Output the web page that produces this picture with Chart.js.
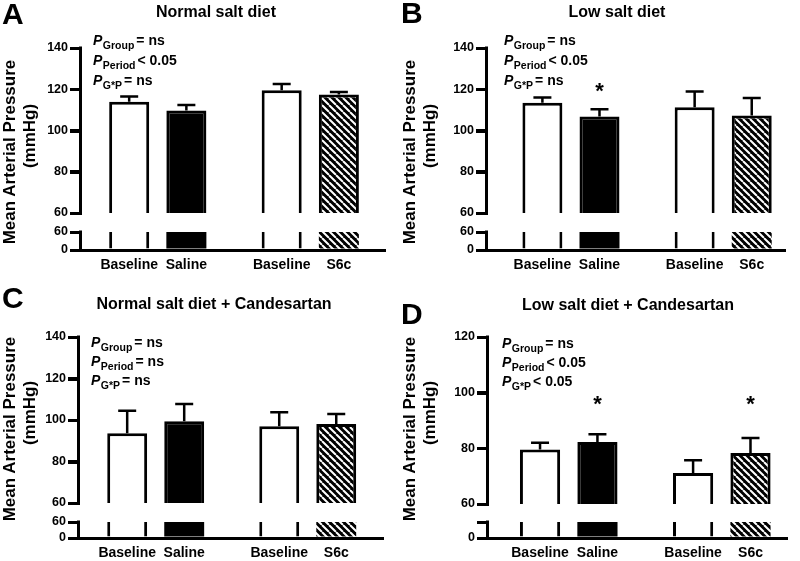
<!DOCTYPE html>
<html>
<head>
<meta charset="utf-8">
<script src="https://cdn.jsdelivr.net/npm/chart.js@4.4.1/dist/chart.umd.min.js"></script>
<style>
  body { margin: 0; background: #fff; }
  #fig { position: relative; width: 800px; height: 561px; overflow: hidden; }
  #fig canvas { position: absolute; }
  .yt { position: absolute; font: bold 17px "Liberation Sans", Arial, sans-serif; color: #000;
        white-space: nowrap; line-height: 1; transform: translate(-50%, -50%) rotate(-90deg); }
</style>
</head>
<body>
<div id="fig">
  <canvas id="pA" width="400" height="280" style="left:0;top:0"></canvas>
  <canvas id="pB" width="400" height="280" style="left:400px;top:0"></canvas>
  <canvas id="pC" width="400" height="281" style="left:0;top:280px"></canvas>
  <canvas id="pD" width="400" height="281" style="left:400px;top:280px"></canvas>
  <canvas id="ov" width="800" height="561" style="left:0;top:0;pointer-events:none"></canvas>
</div>
<script>
// ---- data ----
const groups = ["Saline", "S6c"];      // treatment given after each baseline
const baselineLabel = "Baseline";
const breakAt = 60;                      // y-axis break value (mmHg)
const yTitle = ["Mean Arterial Pressure", "(mmHg)"];

// A: Normal salt diet
const baseA = [114.0, 119.5];
const baseSemA = [2.5, 3.0];
const treatA = [109.7, 117.5];
const treatSemA = [2.7, 1.2];
const statsA = [["Group", "= ns"], ["Period", "< 0.05"], ["G*P", "= ns"]];
const starsA = [false, false];

// B: Low salt diet
const baseB = [113.5, 111.3];
const baseSemB = [2.5, 7.6];
const treatB = [106.8, 107.3];
const treatSemB = [3.5, 8.4];
const statsB = [["Group", "= ns"], ["Period", "< 0.05"], ["G*P", "= ns"]];
const starsB = [true, false];

// C: Normal salt diet + Candesartan
const baseC = [93.6, 97.0];
const baseSemC = [10.9, 6.7];
const treatC = [99.4, 98.1];
const treatSemC = [8.3, 4.8];
const statsC = [["Group", "= ns"], ["Period", "= ns"], ["G*P", "= ns"]];
const starsC = [false, false];

// D: Low salt diet + Candesartan
const baseD = [79.6, 71.1];
const baseSemD = [2.4, 4.6];
const treatD = [82.3, 78.3];
const treatSemD = [2.8, 5.4];
const statsD = [["Group", "= ns"], ["Period", "< 0.05"], ["G*P", "< 0.05"]];
const starsD = [true, true];

// ---- styling ----
const FONT = '"Liberation Sans", Arial, sans-serif';
Chart.defaults.font.family = FONT;
Chart.defaults.color = "#000";

function hatchPattern() {
  const c = document.createElement("canvas");
  c.width = 7; c.height = 7;
  const g = c.getContext("2d");
  g.fillStyle = "#000";
  g.fillRect(0, 0, 7, 7);
  g.strokeStyle = "#fff";
  g.lineWidth = 2;
  g.beginPath();
  for (const o of [-7, 0, 7]) { g.moveTo(o, 0); g.lineTo(o + 7, 7); }
  g.stroke();
  return g.createPattern(c, "repeat");
}
const HATCH = hatchPattern();

const pts = (vals) => vals.map((v, i) => ({ x: i, y: v }));

function makePanel(id, p) {
  const L = p.lay;
  const fixW = (s) => { s.width = L.left; };
  const axisBorder = { color: "#000", width: 3 };
  const tickGrid = { drawOnChartArea: false, color: "#000", lineWidth: 3, tickLength: 10 };
  const tickFont = { size: 12.5, weight: "bold" };
  const treatFill = ["#000", HATCH];
  const lowTicks = { stepSize: breakAt, padding: 2, font: tickFont, autoSkip: false };
  if (!p.breakLabel) lowTicks.callback = (v) => (v === breakAt ? "" : String(v));
  return new Chart(document.getElementById(id), {
    type: "bar",
    data: {
      datasets: [
        { label: baselineLabel, data: pts(p.base), yAxisID: "y", stack: "b",
          backgroundColor: "#fff", borderColor: "#000", borderWidth: 3 },
        { label: "Treatment", data: pts(p.treat), yAxisID: "y", stack: "t",
          backgroundColor: treatFill, borderColor: "#000", borderWidth: 3 },
        { label: "Baseline (below break)", data: pts(groups.map(() => breakAt)), yAxisID: "y0", stack: "b",
          backgroundColor: "#fff", borderColor: "#000",
          borderWidth: { left: 3, right: 3, top: 0, bottom: 0 }, borderSkipped: false },
        { label: "Treatment (below break)", data: pts(groups.map(() => breakAt)), yAxisID: "y0", stack: "t",
          backgroundColor: treatFill, borderWidth: 0 },
      ],
    },
    options: {
      responsive: false,
      animation: false,
      categoryPercentage: 0.75,
      barPercentage: 0.7,
      layout: { padding: { left: 0, top: L.top, right: 400 - L.right, bottom: 0 } },
      plugins: { legend: { display: false }, tooltip: { enabled: false } },
      scales: {
        x: {
          type: "linear", min: L.xMin, max: L.xMax, offset: false,
          ticks: { display: false, includeBounds: false, stepSize: 1 },
          grid: { display: false },
          border: axisBorder,
          afterFit: (s) => { s.height = L.h - L.bottom; },
        },
        y: {
          type: "linear", position: "left", stack: "v", stackWeight: L.weights[0], weight: 3,
          min: p.yMin, max: p.yMax,
          ticks: { stepSize: 20, padding: 2, font: tickFont },
          grid: tickGrid, border: axisBorder, afterFit: fixW,
        },
        gap: {
          type: "linear", position: "left", stack: "v", stackWeight: L.weights[1], weight: 2,
          display: false, min: 0, max: 1, afterFit: fixW,
        },
        y0: {
          type: "linear", position: "left", stack: "v", stackWeight: L.weights[2], weight: 1,
          min: 0, max: breakAt, ticks: lowTicks,
          grid: tickGrid, border: axisBorder, afterFit: fixW,
        },
      },
    },
  });
}

// overlay: error bars, stars, axis segments and annotation text, placed from each chart's scales
const ov = document.getElementById("ov").getContext("2d");
function decorate(chart, p, ox, oy) {
  const L = p.lay;
  const ctx = ov;
  const area = chart.chartArea;
  const y = chart.scales.y;
  ctx.save();
  ctx.translate(ox, oy);
  ctx.fillStyle = "#000";
  ctx.strokeStyle = "#000";

  // broken y axis: one segment per stacked scale
  ctx.lineWidth = 3;
  for (const id of ["y", "y0"]) {
    const s = chart.scales[id];
    const ax = Math.round(s.right) + 0.5;
    ctx.beginPath();
    ctx.moveTo(ax, s.top - 1.5);
    ctx.lineTo(ax, s.bottom + 1.5);
    for (const t of s.ticks) {
      const ty = Math.round(s.getPixelForValue(t.value)) + 0.5;
      ctx.moveTo(s.right - 10, ty);
      ctx.lineTo(ax, ty);
    }
    ctx.stroke();
  }

  // error bars (mean + SEM, upper only)
  ctx.lineWidth = 2.5;
  [p.baseSem, p.treatSem].forEach((sem, di) => {
    const vals = di === 0 ? p.base : p.treat;
    chart.getDatasetMeta(di).data.forEach((bar, i) => {
      const top = y.getPixelForValue(vals[i] + sem[i]);
      ctx.beginPath();
      ctx.moveTo(bar.x, bar.y);
      ctx.lineTo(bar.x, top);
      ctx.moveTo(bar.x - 9, top);
      ctx.lineTo(bar.x + 9, top);
      ctx.stroke();
    });
  });

  // significance stars
  ctx.textAlign = "center";
  ctx.textBaseline = "alphabetic";
  ctx.font = `bold 22px ${FONT}`;
  chart.getDatasetMeta(1).data.forEach((bar, i) => {
    if (p.stars[i]) ctx.fillText("*", bar.x, y.getPixelForValue(L.starAt) + 11.5);
  });

  // panel letter and title
  ctx.textAlign = "left";
  ctx.font = `bold 30px ${FONT}`;
  ctx.fillText(p.letter, L.letter[0], L.letter[1]);
  ctx.textAlign = "center";
  ctx.textBaseline = "middle";
  ctx.font = `bold 16px ${FONT}`;
  ctx.fillText(p.title, L.title[0], L.title[1]);

  // bar labels under the axis
  ctx.font = `bold 14px ${FONT}`;
  chart.getDatasetMeta(0).data.forEach((bar) => ctx.fillText(baselineLabel, bar.x, area.bottom + 15));
  chart.getDatasetMeta(1).data.forEach((bar, i) => ctx.fillText(groups[i], bar.x, area.bottom + 15));

  // statistics block
  ctx.textAlign = "left";
  ctx.textBaseline = "alphabetic";
  p.stats.forEach(([sub, rest], k) => {
    let x = L.stats[0];
    const by = L.stats[1] + k * L.stats[2];
    ctx.font = `italic bold 14px ${FONT}`;
    ctx.fillText("P", x, by);
    x += ctx.measureText("P").width + 0.5;
    ctx.font = `bold 10.5px ${FONT}`;
    ctx.fillText(sub, x, by + 4);
    x += ctx.measureText(sub).width + 2;
    ctx.font = `bold 14px ${FONT}`;
    ctx.fillText(rest, x, by);
  });
  ctx.restore();

  // rotated y-axis title as page text
  const fig = document.getElementById("fig");
  yTitle.forEach((txt, k) => {
    const d = document.createElement("div");
    d.className = "yt";
    d.textContent = txt;
    d.style.left = (ox + L.ytitle[2 * k]) + "px";
    d.style.top = (oy + L.ytitle[2 * k + 1]) + "px";
    fig.appendChild(d);
  });
}

const panelA = {
  letter: "A", title: "Normal salt diet", base: baseA, baseSem: baseSemA, treat: treatA, treatSem: treatSemA,
  stats: statsA, stars: starsA, yMin: 60, yMax: 140, breakLabel: true,
  lay: { left: 80, right: 385, top: 48, bottom: 250, h: 280, weights: [165, 19, 18], xMin: -0.51, xMax: 1.49,
         letter: [2, 24], title: [216, 13], stats: [93, 45, 20], ytitle: [9, 152, 29, 136], starAt: 121.5 },
};
const panelB = {
  letter: "B", title: "Low salt diet", base: baseB, baseSem: baseSemB, treat: treatB, treatSem: treatSemB,
  stats: statsB, stars: starsB, yMin: 60, yMax: 140, breakLabel: true,
  lay: { left: 86, right: 385, top: 48, bottom: 250, h: 280, weights: [165, 19, 18], xMin: -0.558, xMax: 1.406,
         letter: [1, 23], title: [217, 13], stats: [104, 45, 20], ytitle: [9, 152, 29, 136], starAt: 121.5 },
};
const panelC = {
  letter: "C", title: "Normal salt diet + Candesartan", base: baseC, baseSem: baseSemC, treat: treatC, treatSem: treatSemC,
  stats: statsC, stars: starsC, yMin: 60, yMax: 140, breakLabel: true,
  lay: { left: 78, right: 383, top: 57, bottom: 258, h: 281, weights: [166, 19, 16], xMin: -0.511, xMax: 1.495,
         letter: [2, 28], title: [214, 25], stats: [91, 67, 19], ytitle: [9, 149, 29, 133], starAt: 121.5 },
};
const panelD = {
  letter: "D", title: "Low salt diet + Candesartan", base: baseD, baseSem: baseSemD, treat: treatD, treatSem: treatSemD,
  stats: statsD, stars: starsD, yMin: 60, yMax: 120, breakLabel: false,
  lay: { left: 87, right: 387, top: 57, bottom: 258, h: 281, weights: [167, 18, 16], xMin: -0.534, xMax: 1.426,
         letter: [1, 44], title: [228, 26], stats: [102, 68, 19], ytitle: [9, 149, 29, 133], starAt: 97.5 },
};

decorate(makePanel("pA", panelA), panelA, 0, 0);
decorate(makePanel("pB", panelB), panelB, 400, 0);
decorate(makePanel("pC", panelC), panelC, 0, 280);
decorate(makePanel("pD", panelD), panelD, 400, 280);
</script>
</body>
</html>
